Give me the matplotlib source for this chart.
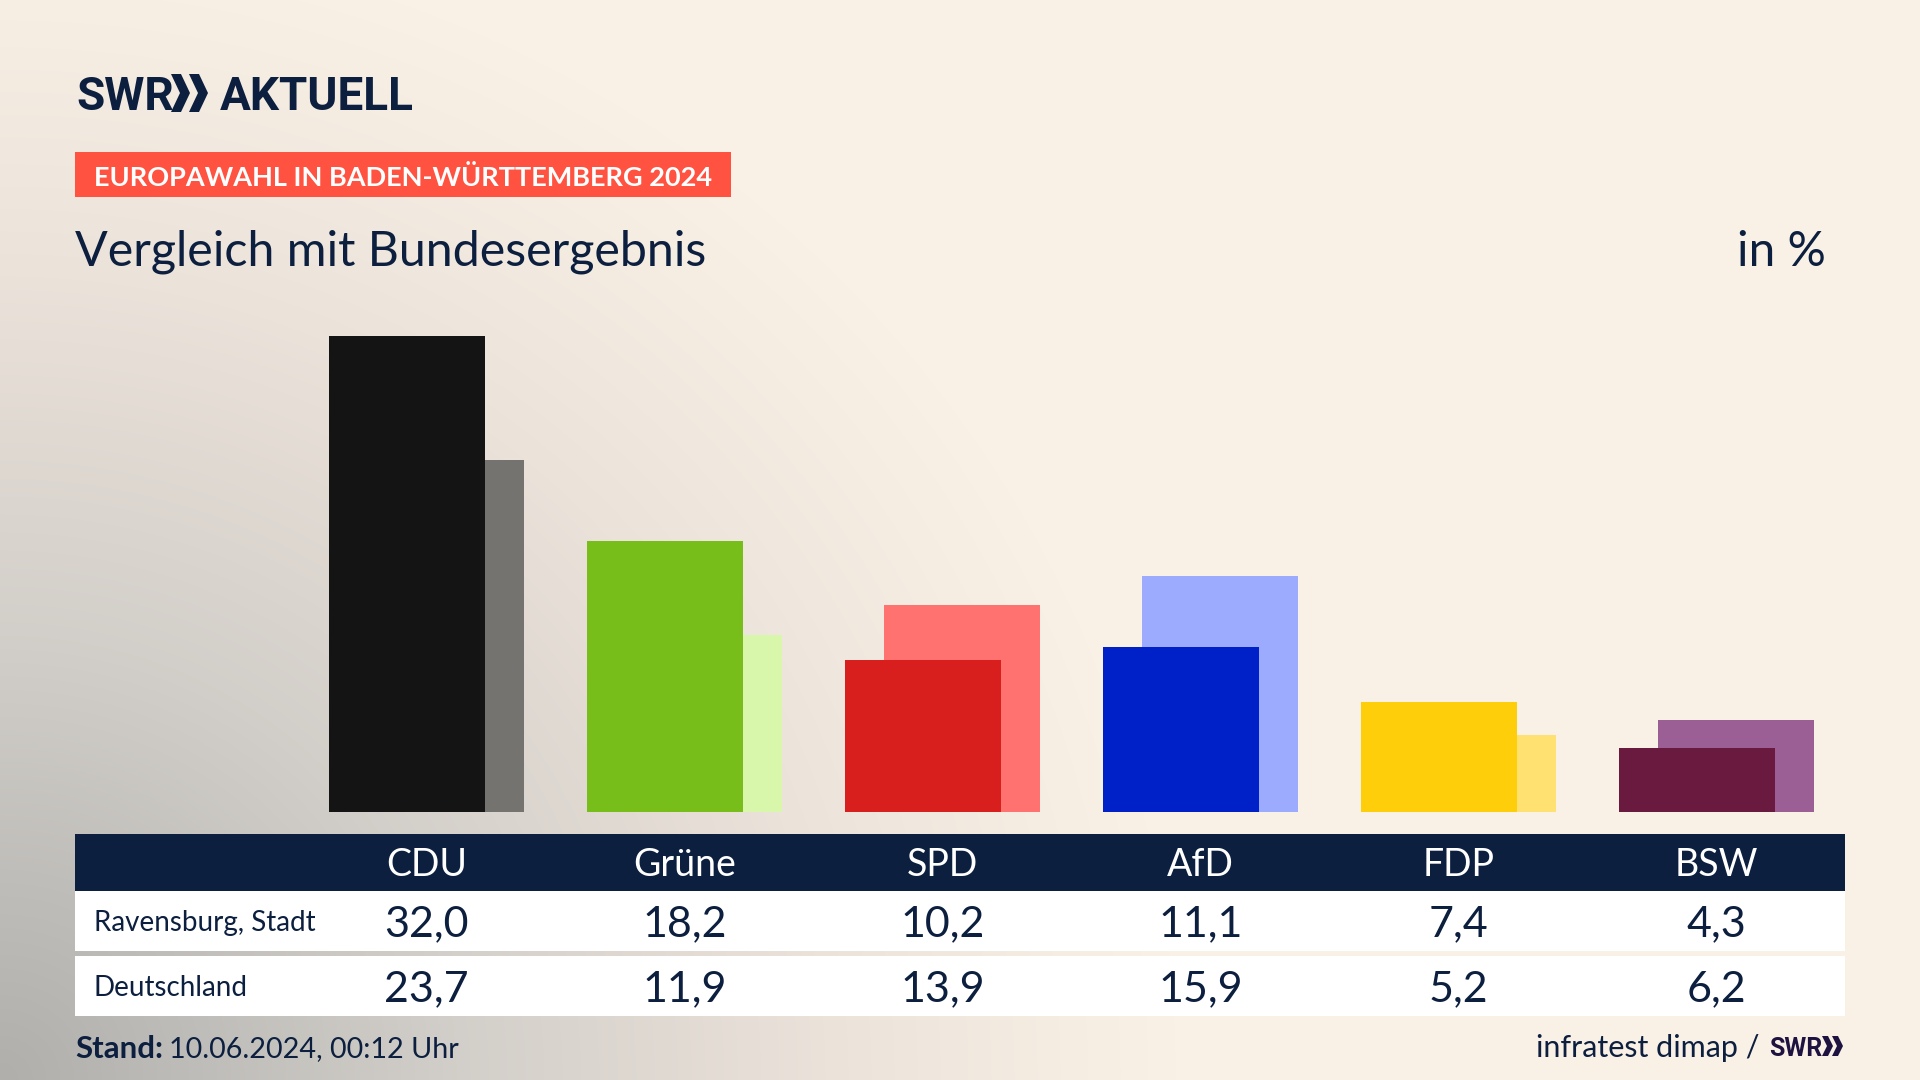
import numpy as np
import matplotlib
matplotlib.use("Agg")
import matplotlib.pyplot as plt
from matplotlib.colors import LinearSegmentedColormap
from matplotlib.patches import Rectangle, Polygon

parties = ["CDU", "Grüne", "SPD", "AfD", "FDP", "BSW"]
ravensburg = [32.0, 18.2, 10.2, 11.1, 7.4, 4.3]
deutschland = [23.7, 11.9, 13.9, 15.9, 5.2, 6.2]
colors_main = ["#141414", "#78BE1A", "#D81F1E", "#0021C8", "#FFCE0B", "#6B1A3F"]
colors_light = ["#747370", "#D8F7AA", "#FF7270", "#9DABFF", "#FFE172", "#9B5F96"]
row_names = ["Ravensburg, Stadt", "Deutschland"]

NAVY = "#0C1F3F"
FONT = "Lato"
LOGO = "Roboto"
W, H = 1920, 1080
fig = plt.figure(figsize=(W / 100, H / 100), dpi=100)

# background gradient
bg = fig.add_axes([0, 0, 1, 1], zorder=0)
yy, xx = np.mgrid[0:H, 0:W]
d = np.sqrt((xx / 1180) ** 2 + ((H - yy) / 1150) ** 2)
cmap = LinearSegmentedColormap.from_list(
    "bg", [(0, "#B0AFAC"), (0.35, "#CFCCC7"), (0.7, "#EBE2DA"), (1, "#FAF1E6")])
bg.imshow(np.clip(d, 0, 1), cmap=cmap, vmin=0, vmax=1, aspect="auto",
          extent=[0, W, H, 0], interpolation="bilinear")
bg.set_xlim(0, W)
bg.set_ylim(H, 0)
bg.axis("off")

# page layer in pixel coordinates
pg = fig.add_axes([0, 0, 1, 1], zorder=1)
pg.set_xlim(0, W)
pg.set_ylim(H, 0)
pg.axis("off")
pg.patch.set_alpha(0)


def T(x, y, s, size, color=NAVY, ha="left", weight="normal", family=FONT):
    return pg.text(x, y, s, fontsize=size, color=color, ha=ha, va="center_baseline",
                   fontweight=weight, family=family)


def chevrons(x, y0, y1, w, t, gap, color):
    ym = (y0 + y1) / 2
    for k in range(2):
        xo = x + k * gap
        pg.add_patch(Polygon([(xo, y0), (xo + t, y0), (xo + t + w, ym), (xo + t, y1),
                              (xo, y1), (xo + w, ym)], closed=True, fc=color, ec="none"))


# logo
T(76, 93, "SWR", 33, weight="bold", family=LOGO)
chevrons(171, 74, 112, 9, 10, 18, NAVY)
T(220, 93, "AKTUELL", 33, weight="bold", family=LOGO)

# banner
pg.add_patch(Rectangle((75, 152), 656, 45, fc="#FF5240", ec="none"))
T(94, 175, "EUROPAWAHL IN BADEN-WÜRTTEMBERG 2024", 19.5, color="white", weight="bold")

# title
T(75, 248, "Vergleich mit Bundesergebnis", 34.8)
T(1826, 248, "in %", 34.5, ha="right")

# table
pg.add_patch(Rectangle((75, 834), 1770, 57, fc=NAVY, ec="none"))
pg.add_patch(Rectangle((75, 891), 1770, 60, fc="white", ec="none"))
pg.add_patch(Rectangle((75, 956), 1770, 60, fc="white", ec="none"))
T(94, 921, row_names[0], 20)
T(94, 986, row_names[1], 20)
for i, p in enumerate(parties):
    cx = 426.5 + 258 * i
    T(cx, 862, p, 27, color="white", ha="center")
    T(cx, 921, f"{ravensburg[i]:.1f}".replace(".", ","), 31, ha="center")
    T(cx, 986, f"{deutschland[i]:.1f}".replace(".", ","), 31, ha="center")

# footer
T(75, 1047, "Stand:", 22.5, weight="bold")
T(169, 1047, "10.06.2024, 00:12 Uhr", 20.7)
T(1760, 1046, "infratest dimap /", 22, ha="right")
T(1769, 1046, "SWR", 18, weight="bold", color="#1E1240", family=LOGO)
chevrons(1822, 1036, 1056, 5, 6, 10, "#1E1240")

# bars: data axes, x = party index, y = percent
x0_px, x1_px = 300, 1860
base_px, top_px = 812, 320
PX_PER_UNIT = 14.87
ax = fig.add_axes([x0_px / W, 1 - base_px / H, (x1_px - x0_px) / W, (base_px - top_px) / H],
                  zorder=2)
ax.patch.set_alpha(0)
ax.axis("off")
ax.set_xlim((x0_px - 426.6) / 258, (x1_px - 426.6) / 258)
ax.set_ylim(0, (base_px - top_px) / PX_PER_UNIT)
xs = np.arange(len(parties))
bw = 156.2 / 258
off = 19.5 / 258
ax.bar(xs + off, deutschland, width=bw, color=colors_light, linewidth=0, zorder=1)
ax.bar(xs - off, ravensburg, width=bw, color=colors_main, linewidth=0, zorder=2)

fig.savefig("out.png", dpi=100)
